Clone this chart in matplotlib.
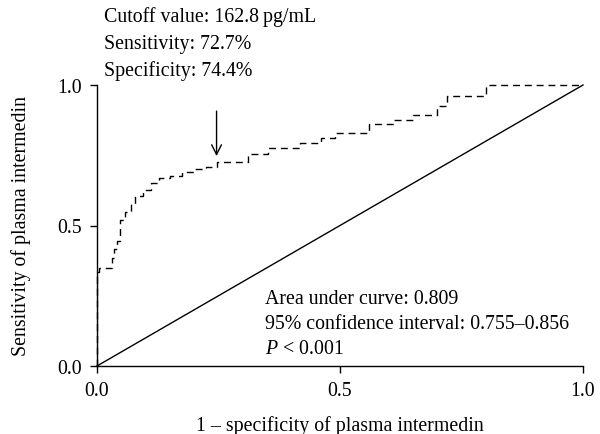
import matplotlib
matplotlib.use("Agg")
import matplotlib.pyplot as plt

# ROC curve vertices (1 - specificity, sensitivity), step-wise
fpr = [0.000, 0.000, 0.004, 0.031, 0.036, 0.041, 0.047, 0.058, 0.070, 0.078,
       0.095, 0.112, 0.128, 0.150, 0.175, 0.200, 0.225, 0.247, 0.310, 0.352,
       0.418, 0.460, 0.490, 0.560, 0.610, 0.650, 0.700, 0.720, 0.800, 1.000]
tpr = [0.000, 0.335, 0.350, 0.385, 0.415, 0.445, 0.520, 0.548, 0.575, 0.605,
       0.625, 0.650, 0.668, 0.676, 0.690, 0.700, 0.708, 0.727, 0.755, 0.775,
       0.795, 0.810, 0.830, 0.860, 0.875, 0.895, 0.925, 0.960, 1.000, 1.000]

ticks = [0.0, 0.5, 1.0]
tick_labels = ["0.0", "0.5", "1.0"]
cutoff_point = (0.256, 0.727)

info_lines = ["Cutoff value: 162.8\u2009pg/mL", "Sensitivity: 72.7%", "Specificity: 74.4%"]
auc_lines = ["Area under curve: 0.809", "95% confidence interval: 0.755\u20130.856"]

plt.rcParams['font.family'] = ['Liberation Serif', 'DejaVu Serif']
plt.rcParams['mathtext.fontset'] = 'custom'
plt.rcParams['mathtext.it'] = 'Liberation Serif:italic'
plt.rcParams['mathtext.rm'] = 'Liberation Serif'
fs = 14.3

W, H = 600, 435
fig = plt.figure(figsize=(W / 100, H / 100), dpi=100)
ax = fig.add_axes([97 / W, 1 - 367 / H, (583 - 97) / W, (367 - 86) / H])

ax.plot([0, 1], [0, 1], color='black', lw=1.0, clip_on=False)
ax.plot(fpr, tpr, drawstyle='steps-post', color='black', lw=1.0,
        linestyle=(0, (5, 3.5)), clip_on=False)

ax.annotate("", xy=(cutoff_point[0] - 0.01, cutoff_point[1] + 0.02),
            xytext=(cutoff_point[0] - 0.01, 0.907),
            arrowprops=dict(arrowstyle='->,head_length=0.7,head_width=0.35',
                            color='black', lw=1.0, shrinkA=0, shrinkB=0))

ax.set_xlim(0, 1)
ax.set_ylim(0, 1)
ax.set_xticks(ticks)
ax.set_xticklabels(tick_labels)
ax.set_yticks(ticks)
ax.set_yticklabels(tick_labels)
ax.tick_params(direction='out', length=5, width=1, labelsize=fs, pad=6)
for s in ['top', 'right']:
    ax.spines[s].set_visible(False)
for s in ['left', 'bottom']:
    ax.spines[s].set_linewidth(1.0)

ax.set_xlabel("1 \u2013 specificity of plasma intermedin", fontsize=fs, labelpad=11)
ax.set_ylabel("Sensitivity of plasma intermedin", fontsize=fs, labelpad=19)

for i, line in enumerate(info_lines):
    fig.text(104 / W, 1 - (17 + 27 * i) / H, line, fontsize=fs, va='center', ha='left')

for i, line in enumerate(auc_lines):
    fig.text(265 / W, 1 - (300 + 25 * i) / H, line, fontsize=fs, va='center', ha='left')
fig.text(265 / W, 1 - 350 / H, r"$P$ < 0.001", fontsize=fs, va='center', ha='left')

fig.savefig("out.png", dpi=100)
